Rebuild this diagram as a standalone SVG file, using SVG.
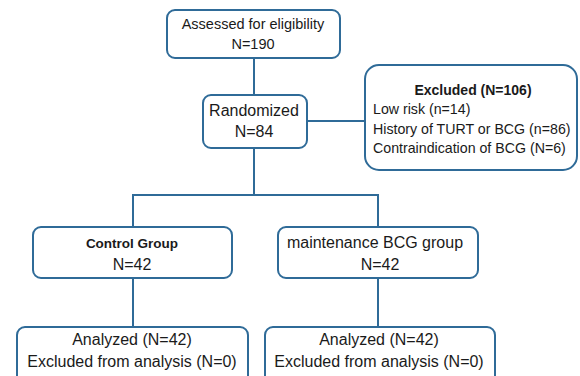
<svg xmlns="http://www.w3.org/2000/svg" width="580" height="376" viewBox="0 0 580 376">
<style>
.box{fill:#ffffff;stroke:#2f6b98;stroke-width:2}
.ln{stroke:#2f6b98;stroke-width:2;fill:none}
text{font-family:"Liberation Sans",Arial,sans-serif;fill:#1a1a1a}
.c{text-anchor:middle}
.b{font-weight:bold}
</style>
<rect width="580" height="376" fill="#ffffff"/>
<g id="connectors">
<path class="ln" d="M254 58V95"/>
<path class="ln" d="M254 148V195"/>
<path class="ln" d="M307 121H365"/>
<path class="ln" d="M133 227V195H378V227"/>
<path class="ln" d="M133 278V327"/>
<path class="ln" d="M378 278V327"/>
</g>
<g id="assessed">
<rect class="box" x="167" y="10" width="173" height="48" rx="8"/>
<text class="c" x="253" y="29" font-size="14.5">Assessed for eligibility</text>
<text class="c" x="253" y="49" font-size="14.5">N=190</text>
</g>
<g id="randomized">
<rect class="box" x="203" y="95" width="104" height="53" rx="8"/>
<text class="c" x="254" y="116" font-size="16">Randomized</text>
<text class="c" x="254" y="137" font-size="16">N=84</text>
</g>
<g id="excluded">
<rect class="box" x="365" y="65" width="212" height="105" rx="14"/>
<text class="c b" x="473" y="95" font-size="14">Excluded (N=106)</text>
<text x="373" y="114" font-size="14.2">Low risk (n=14)</text>
<text x="373" y="134" font-size="14.2">History of TURT or BCG (n=86)</text>
<text x="373" y="153" font-size="14.2">Contraindication of BCG (N=6)</text>
</g>
<g id="control">
<rect class="box" x="33" y="227" width="199" height="51" rx="8"/>
<text class="c b" x="132" y="248" font-size="13.5">Control Group</text>
<text class="c" x="132" y="270" font-size="16">N=42</text>
</g>
<g id="maintenance">
<rect class="box" x="278" y="227" width="200" height="51" rx="8"/>
<text class="c" x="375" y="248" font-size="16">maintenance BCG group</text>
<text class="c" x="380" y="270" font-size="16">N=42</text>
</g>
<g id="analyzed-control">
<rect class="box" x="17" y="327" width="231" height="60" rx="8"/>
<text class="c" x="132" y="345" font-size="16">Analyzed (N=42)</text>
<text class="c" x="132" y="367" font-size="16">Excluded from analysis (N=0)</text>
</g>
<g id="analyzed-bcg">
<rect class="box" x="265" y="327" width="230" height="60" rx="8"/>
<text class="c" x="379" y="345" font-size="16">Analyzed (N=42)</text>
<text class="c" x="379" y="367" font-size="16">Excluded from analysis (N=0)</text>
</g>
</svg>
